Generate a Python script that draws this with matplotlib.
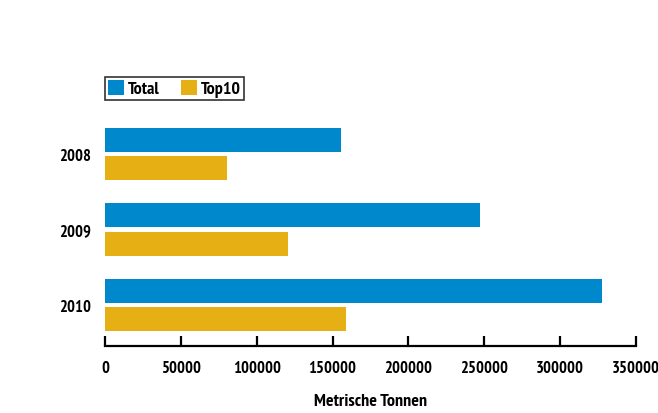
import matplotlib
matplotlib.use("Agg")
import matplotlib.pyplot as plt
import numpy as np
from matplotlib.patches import Patch
from matplotlib import font_manager as fm

years = ["2008", "2009", "2010"]
total = [155700, 247000, 327400]
top10 = [80400, 120600, 159000]
xticks = [0, 50000, 100000, 150000, 200000, 250000, 300000, 350000]

available = {f.name for f in fm.fontManager.ttflist}
family = 'DejaVu Sans'
for cand in ['PT Sans Narrow', 'Roboto Condensed', 'Open Sans Condensed',
             'Liberation Sans Narrow', 'Asap Condensed']:
    if cand in available:
        family = cand
        break

def fp(size):
    return fm.FontProperties(family=[family, 'DejaVu Sans'], weight='bold', size=size)

blue = "#0088CC"
gold = "#E6B015"

fig = plt.figure(figsize=(6.58, 4.14), dpi=100)
ax = fig.add_axes([105/658, 1-347/414, (636-105)/658, (347-110)/414])

pos = np.arange(len(years))
h = 0.318
off = 0.377 / 2
ax.barh(pos - off, total, height=h, color=blue, label="Total")
ax.barh(pos + off, top10, height=h, color=gold, label="Top10")

ax.set_xlim(0, 350000)
ax.set_ylim(2.546, -0.593)
ax.set_yticks(pos)
ax.set_yticklabels(years, fontproperties=fp(12))
ax.tick_params(axis='y', length=0, pad=10)
ax.set_xticks(xticks)
ax.set_xticklabels([str(v) for v in xticks], fontproperties=fp(12))
ax.tick_params(axis='x', direction='in', length=7, width=1.6, pad=10)

for s in ['top', 'right', 'left']:
    ax.spines[s].set_visible(False)
ax.spines['bottom'].set_linewidth(1.6)

ax.set_xlabel("Metrische Tonnen", fontproperties=fp(13), labelpad=12)

handles = [Patch(facecolor=blue, label="Total"), Patch(facecolor=gold, label="Top10")]
leg = fig.legend(handles=handles, loc='upper left',
                 bbox_to_anchor=(105/658, 1-78/414), ncol=2, frameon=True,
                 fancybox=False, edgecolor='black', prop=fp(13),
                 handlelength=0.9, handleheight=0.9, handletextpad=0.2,
                 columnspacing=1.2, borderpad=0.15, borderaxespad=0)
leg.get_frame().set_linewidth(1.2)

fig.savefig("out.png", dpi=100)
